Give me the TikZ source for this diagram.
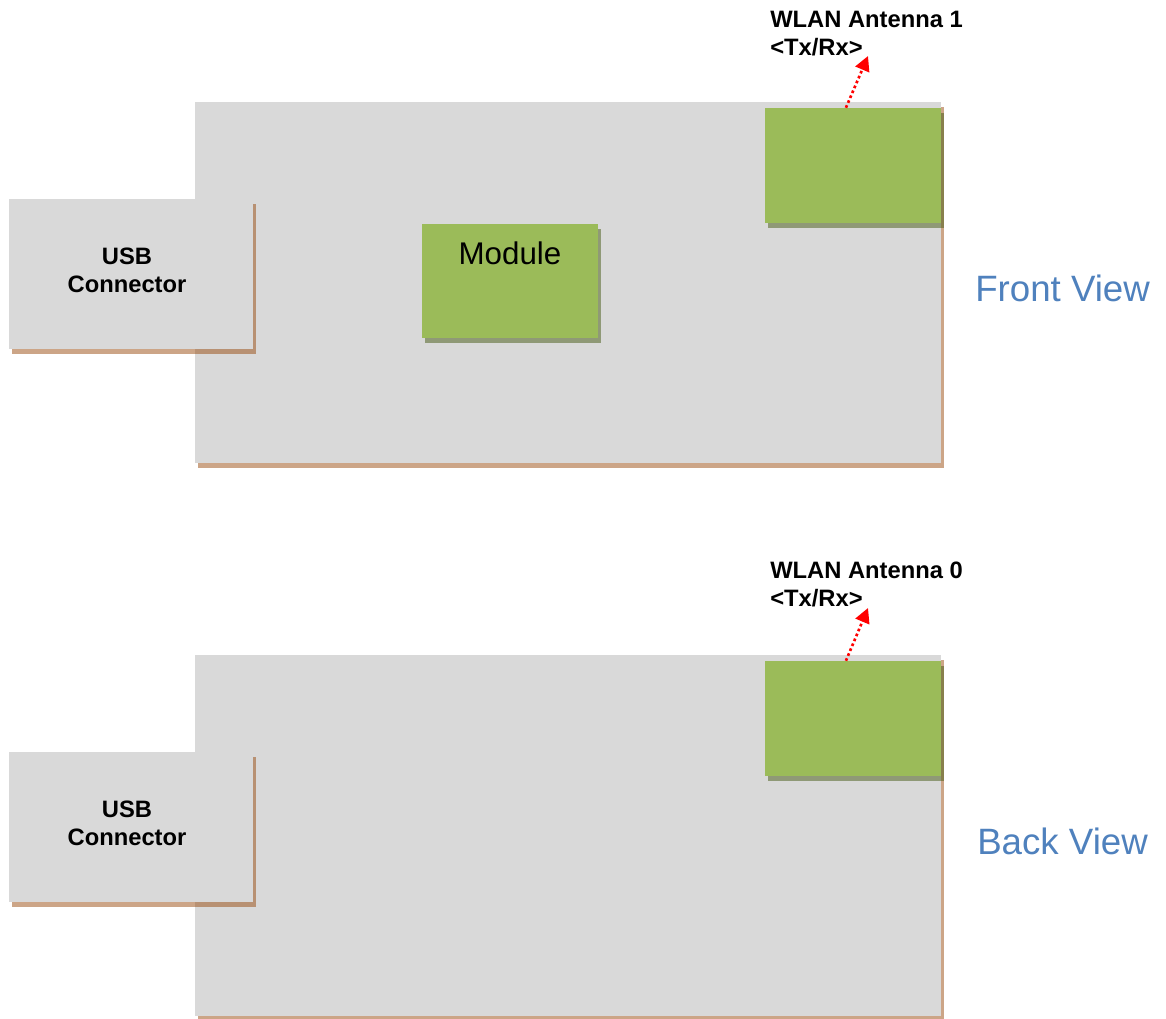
\documentclass[tikz,border=0pt]{standalone}
\usepackage{fontspec}
\setsansfont{Liberation Sans}
\usepackage{xcolor}
\usepackage{tikz}
\usetikzlibrary{arrows.meta,calc,fit,shadows}
\definecolor{figBoard}{RGB}{217,217,217}
\definecolor{figGreen}{RGB}{155,187,89}
\definecolor{figBlue}{RGB}{79,129,189}
\definecolor{figRed}{RGB}{255,0,0}
\definecolor{figBrown}{RGB}{153,75,15}
\definecolor{figOlive}{RGB}{70,90,20}
\tikzset{
  figboard/.style={fill=figBoard,inner sep=0pt,drop shadow={shadow xshift=2.25pt,shadow yshift=-3.75pt,fill=figBrown,opacity=0.5}},
  figchip/.style={fill=figGreen,inner sep=0pt,drop shadow={shadow xshift=2.25pt,shadow yshift=-3.75pt,fill=figOlive,opacity=0.5}},
  figlabel/.style={font=\sffamily\bfseries\fontsize{17.8}{21}\selectfont,text=black,align=left,inner sep=0pt,anchor=north west},
  figusb/.style={font=\sffamily\bfseries\fontsize{17.8}{21}\selectfont,text=black,align=center,inner sep=0pt,xshift=-3pt,yshift=2.5pt},
  figchiptext/.style={font=\sffamily\fontsize{23.5}{28}\selectfont,text=black,inner sep=0pt},
  figview/.style={font=\sffamily\fontsize{27.5}{33}\selectfont,text=figBlue,inner sep=0pt,anchor=west},
  figsignal/.style={-{Triangle[length=11pt,width=11pt]},draw=figRed,line width=2pt,dash pattern=on 2pt off 2pt},
}

\begin{document}
\begin{tikzpicture}[x=0.75pt,y=-0.75pt]
\useasboundingbox (0,0) rectangle (1166,1018);

% Front view.
\node[figboard,fit={(195,102) (941,463)}] (fboard) {};
\node[figboard,fit={(9,199) (253,349)},label={[figusb]center:USB\\Connector}] (fusb) {};
\node[figchip,fit={(422,224) (598,338)},label={[figchiptext,anchor=north,yshift=-13.5pt]north:Module}] (fmodule) {};
\node[figchip,fit={(765,108) (941,223)}] (fant) {};
\node[figlabel] (flabel) at (770,11) {WLAN Antenna 1\\<Tx/Rx>};
\coordinate (ftip) at (868,56);
\draw[figsignal] ($(fant.north west)!0.46!(fant.north east)$) -- (ftip);
\node[figview] (fview) at (975,288) {Front View};

% Back view.
\node[figboard,fit={(195,655) (941,1016)}] (bboard) {};
\node[figboard,fit={(9,752) (253,902)},label={[figusb]center:USB\\Connector}] (busb) {};
\node[figchip,fit={(765,661) (941,776)}] (bant) {};
\node[figlabel] (blabel) at (770,562) {WLAN Antenna 0\\<Tx/Rx>};
\coordinate (btip) at (868,608);
\draw[figsignal] ($(bant.north west)!0.46!(bant.north east)$) -- (btip);
\node[figview] (bview) at (977,841) {Back View};
\end{tikzpicture}
\end{document}
